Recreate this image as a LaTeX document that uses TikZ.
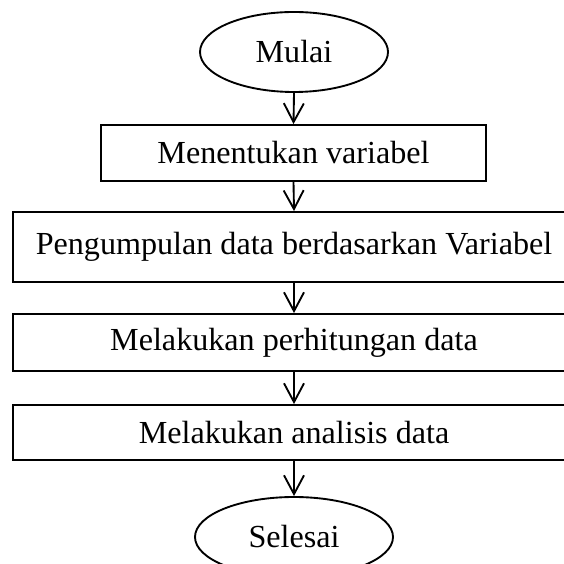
\documentclass[tikz,border=0pt]{standalone}
\usepackage{fontspec}
\setmainfont{Liberation Serif}
\usetikzlibrary{shapes.geometric,arrows.meta}

\tikzset{
  langkah/.style={draw, line width=0.75pt, rectangle, inner sep=0pt},
  terminal/.style={draw, line width=0.75pt, ellipse, inner sep=0pt, minimum height=32pt},
  panah/.style={line width=0.75pt, -{Straight Barb[length=7.5pt, width=8pt, line width=0.75pt]}}
}

\begin{document}
\begin{tikzpicture}[x=0.4pt, y=-0.4pt, font=\fontsize{12.85}{15}\selectfont]
  \useasboundingbox (0,0) rectangle (564,564);
  \node[terminal, minimum width=75.2pt] (mulai) at (294,52) {Mulai};
  \node[langkah, minimum width=154pt, minimum height=22.4pt] (b1) at (293.5,153) {Menentukan variabel};
  \foreach \txt/\y/\h [count=\i from 2] in {Pengumpulan data berdasarkan Variabel/247/28pt,
      Melakukan perhitungan data/342.5/22.8pt, Melakukan analisis data/432.5/22pt} {
    \node[langkah, minimum width=224.8pt, minimum height=\h] (b\i) at (294,\y) {\txt};
  }
  \node[terminal, minimum width=79.2pt] (selesai) at (294,537) {Selesai};
  \draw[panah] (mulai.south) -- (b1.north);
  \foreach \a/\b in {b1/b2, b2/b3, b3/b4, b4/selesai}
    \draw[panah] (\a.south) -- (\b.north);
\end{tikzpicture}
\end{document}
